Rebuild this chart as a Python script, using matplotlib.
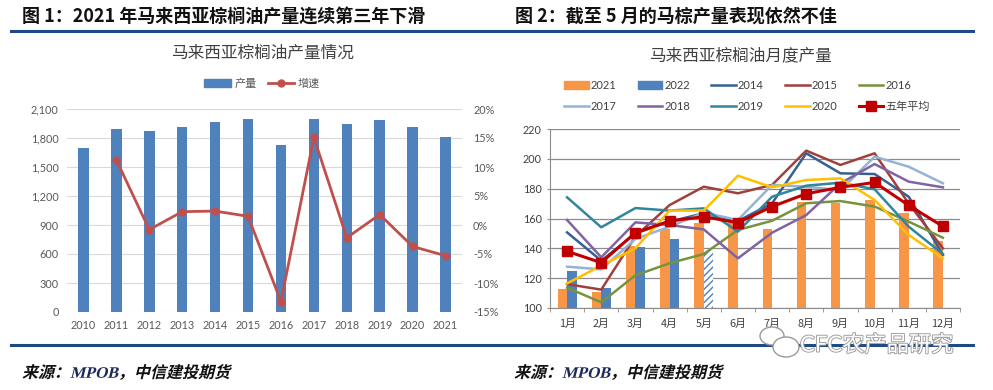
import numpy as np
import matplotlib
matplotlib.use("Agg")
import matplotlib.pyplot as plt
import matplotlib.patheffects as pe
from matplotlib.patches import Patch, Ellipse, PathPatch
from matplotlib.lines import Line2D
from matplotlib.ticker import FuncFormatter, FixedLocator
from matplotlib.textpath import TextPath, text_to_path
from matplotlib.font_manager import FontProperties
from matplotlib.transforms import Affine2D

plt.rcParams["font.family"] = ["Lato", "Noto Sans CJK SC", "DejaVu Sans"]
plt.rcParams["axes.unicode_minus"] = False

# ====================== 数据 ======================
years = ["2010", "2011", "2012", "2013", "2014", "2015", "2016", "2017", "2018", "2019", "2020", "2021"]
output = [1700, 1893, 1873, 1917, 1966, 1993, 1732, 1993, 1948, 1986, 1911, 1811]
growth = [np.nan, 11.2, -0.8, 2.3, 2.4, 1.5, -13.2, 15.1, -2.2, 1.8, -3.7, -5.3]

months = ["1月", "2月", "3月", "4月", "5月", "6月", "7月", "8月", "9月", "10月", "11月", "12月"]
y2021 = [112.5, 110.7, 141.8, 152.7, 156.8, 160.0, 152.7, 171.0, 170.6, 172.4, 163.5, 145.0]
y2022 = [125.0, 113.2, 140.9, 146.0, 138.9]
y2014 = [150.7, 131.7, 150.0, 157.9, 163.5, 158.3, 170.2, 203.7, 190.3, 189.8, 174.6, 135.5]
y2015 = [116.0, 112.3, 148.0, 169.0, 181.3, 176.9, 182.5, 205.5, 195.9, 203.7, 170.0, 140.0]
y2016 = [113.6, 103.8, 121.9, 130.0, 136.2, 152.3, 158.5, 170.2, 171.7, 168.0, 157.9, 147.1]
y2017 = [127.7, 125.9, 146.3, 154.5, 163.9, 159.0, 182.5, 181.3, 179.0, 201.5, 194.7, 183.6]
y2018 = [159.0, 134.0, 157.4, 155.6, 152.7, 133.3, 150.5, 162.3, 183.6, 196.5, 184.7, 180.9]
y2019 = [174.2, 154.1, 167.0, 165.3, 166.8, 151.2, 174.6, 182.0, 184.0, 179.6, 154.5, 136.2]
y2020 = [116.5, 128.4, 140.0, 165.3, 165.3, 188.7, 180.9, 185.8, 186.9, 172.4, 148.9, 133.3]
avg5 = [138.0, 130.4, 150.5, 158.3, 161.2, 157.2, 168.0, 176.6, 180.9, 184.2, 168.8, 154.7]

W, H = 993, 390
fig = plt.figure(figsize=(W / 100, H / 100), dpi=100)


def box(x0, y0, x1, y1):
    # 像素坐标(左上为原点) -> figure 比例
    return [x0 / W, 1 - y1 / H, (x1 - x0) / W, (y1 - y0) / H]


def fy(y):
    return 1 - y / H


navy = "#1F4A86"
cjk = ["Noto Sans CJK SC", "DejaVu Sans"]


def slanted_text(x0, yc, pieces, size=16, skew=14):
    # 斜体来源文字：逐段转成路径后做倾斜（像素坐标）
    base = H - yc - 0.36 * size
    xpos = x0
    for s, family, col in pieces:
        prop = FontProperties(family=family, weight="bold", size=size)
        w, _, _ = text_to_path.get_text_width_height_descent(s, prop, ismath=False)
        tp = TextPath((0, 0), s, prop=prop, size=size)
        tr = Affine2D().skew_deg(skew, 0).translate(xpos, base)
        fig.add_artist(PathPatch(tp, transform=tr, facecolor=col, lw=0))
        xpos += w


# ====================== 标题、分隔线、来源 ======================
fig.text(22 / W, fy(16), "图 1：2021 年马来西亚棕榈油产量连续第三年下滑", fontsize=13,
         fontweight="bold", family=cjk, va="center", ha="left", color="#111111")
fig.text(515 / W, fy(16), "图 2：截至 5 月的马棕产量表现依然不佳", fontsize=13,
         fontweight="bold", family=cjk, va="center", ha="left", color="#111111")
for yy in (30.5, 345):
    fig.add_artist(Line2D([11 / W, 973 / W], [fy(yy), fy(yy)], color=navy, lw=2.2))
src = [("来源：", "Noto Sans CJK SC", "#111111"),
       ("MPOB", "Liberation Serif", "#1F2A5A"),
       ("，中信建投期货", "Noto Sans CJK SC", "#111111")]
slanted_text(22, 372, src)
slanted_text(514, 372, src)

# ====================== 图1 ======================
ax1 = fig.add_axes(box(67, 109, 462, 312))
x = np.arange(len(years))
ax1.bar(x, output, width=0.32, color="#4F81BD", zorder=2)
ax1.set_xlim(-0.5, len(years) - 0.5)
ax1.set_ylim(0, 2100)
ax1.set_yticks(np.arange(0, 2101, 300))
ax1.yaxis.set_major_formatter(FuncFormatter(lambda v, p: f"{int(v):,}"))
ax1.set_xticks(x)
ax1.set_xticklabels(years)
ax1.grid(axis="y", color="#D9D9D9", lw=0.8, zorder=0)
for s in ax1.spines.values():
    s.set_visible(False)
ax1.tick_params(length=0, labelsize=7.8, colors="#595959", pad=6)

ax1b = ax1.twinx()
ax1b.plot(x, growth, color="#C0504D", lw=2, marker="o", ms=5, zorder=3)
ax1b.set_ylim(-15, 20)
ax1b.set_yticks(np.arange(-15, 21, 5))
ax1b.yaxis.set_major_formatter(FuncFormatter(lambda v, p: f"{int(v)}%"))
for s in ax1b.spines.values():
    s.set_visible(False)
ax1b.tick_params(length=0, labelsize=7.8, colors="#595959", pad=8)

fig.text(262 / W, fy(53), "马来西亚棕榈油产量情况", fontsize=12, family=cjk,
         ha="center", va="center", color="#404040")
h1 = [Patch(color="#4F81BD"), Line2D([], [], color="#C0504D", lw=2, marker="o", ms=5)]
fig.legend(h1, ["产量", "增速"], loc="center", bbox_to_anchor=(262 / W, fy(84)), ncol=2,
           frameon=False, prop={"family": cjk, "size": 8}, handlelength=2.4,
           handletextpad=0.3, columnspacing=1.0, labelcolor="#595959")

# ====================== 图2 ======================
ax2 = fig.add_axes(box(550, 129, 960, 308))
m = np.arange(len(months))
bw = 0.28
ax2.bar(m - bw / 2, y2021, width=bw, color="#F79646", zorder=2)
n22 = len(y2022)
ax2.bar(m[:n22 - 1] + bw / 2, y2022[:n22 - 1], width=bw, color="#4F81BD", zorder=2)
ax2.bar(m[n22 - 1] + bw / 2, y2022[n22 - 1], width=bw, facecolor="white",
        edgecolor="#4F81BD", hatch="/////", lw=0, zorder=2)

series = [
    (y2014, "#376092", "2014"),
    (y2015, "#A0403C", "2015"),
    (y2016, "#77933C", "2016"),
    (y2017, "#95B3D7", "2017"),
    (y2018, "#8064A2", "2018"),
    (y2019, "#31859C", "2019"),
    (y2020, "#FFC000", "2020"),
]
lines = {}
for vals, col, name in series:
    lines[name] = ax2.plot(m, vals, color=col, lw=1.8, zorder=3)[0]
lines["avg"] = ax2.plot(m, avg5, color="#C00000", lw=2.2, marker="s", ms=7, zorder=4)[0]

ax2.set_xlim(-0.5, len(months) - 0.5)
ax2.set_ylim(100, 220)
ax2.set_yticks(np.arange(100, 221, 20))
ax2.set_xticks(m)
ax2.set_xticklabels(months, family=cjk)
ax2.xaxis.set_minor_locator(FixedLocator(np.arange(-0.5, len(months), 1)))
ax2.grid(axis="y", color="#8C8C8C", lw=0.9, zorder=0)
for k in ("top", "right"):
    ax2.spines[k].set_visible(False)
for k in ("left", "bottom"):
    ax2.spines[k].set_color("#8C8C8C")
ax2.tick_params(axis="x", which="major", length=0, labelsize=7.8, colors="#404040", pad=8)
ax2.tick_params(axis="x", which="minor", length=3, color="#8C8C8C")
ax2.tick_params(axis="y", length=2, color="#8C8C8C", labelsize=7.8, colors="#404040", pad=4)

fig.text(740 / W, fy(56), "马来西亚棕榈油月度产量", fontsize=12, family=cjk,
         ha="center", va="center", color="#404040")

hd = {
    "2021": Patch(color="#F79646"),
    "2022": Patch(color="#4F81BD"),
}
hd.update({name: lines[name] for _, _, name in series})
hd["五年平均"] = lines["avg"]
order = ["2021", "2017", "2022", "2018", "2014", "2019", "2015", "2020", "2016", "五年平均"]
fig.legend([hd[k] for k in order], order, loc="center", bbox_to_anchor=(747 / W, fy(96)),
           ncol=5, frameon=False, prop={"family": ["Lato", "Noto Sans CJK SC"], "size": 8},
           handlelength=2.2, handletextpad=0.2, columnspacing=1.9, labelspacing=0.9,
           labelcolor="#404040")

# ====================== 水印 ======================
wm = fig.text(800 / W, fy(345), "CFC农产品研究", fontsize=16, family=["Lato", "Noto Sans CJK SC"],
              ha="left", va="center", color="white", zorder=10)
wm.set_path_effects([pe.withStroke(linewidth=1.3, foreground="#9A9A9A")])
for (cx, cy, w, h) in [(772, 336, 24, 18), (786, 347, 26, 20)]:
    fig.add_artist(Ellipse((cx / W, fy(cy)), w / W, h / H, facecolor="white",
                           edgecolor="#9A9A9A", lw=1, zorder=9))

fig.savefig("out.png", dpi=100)
